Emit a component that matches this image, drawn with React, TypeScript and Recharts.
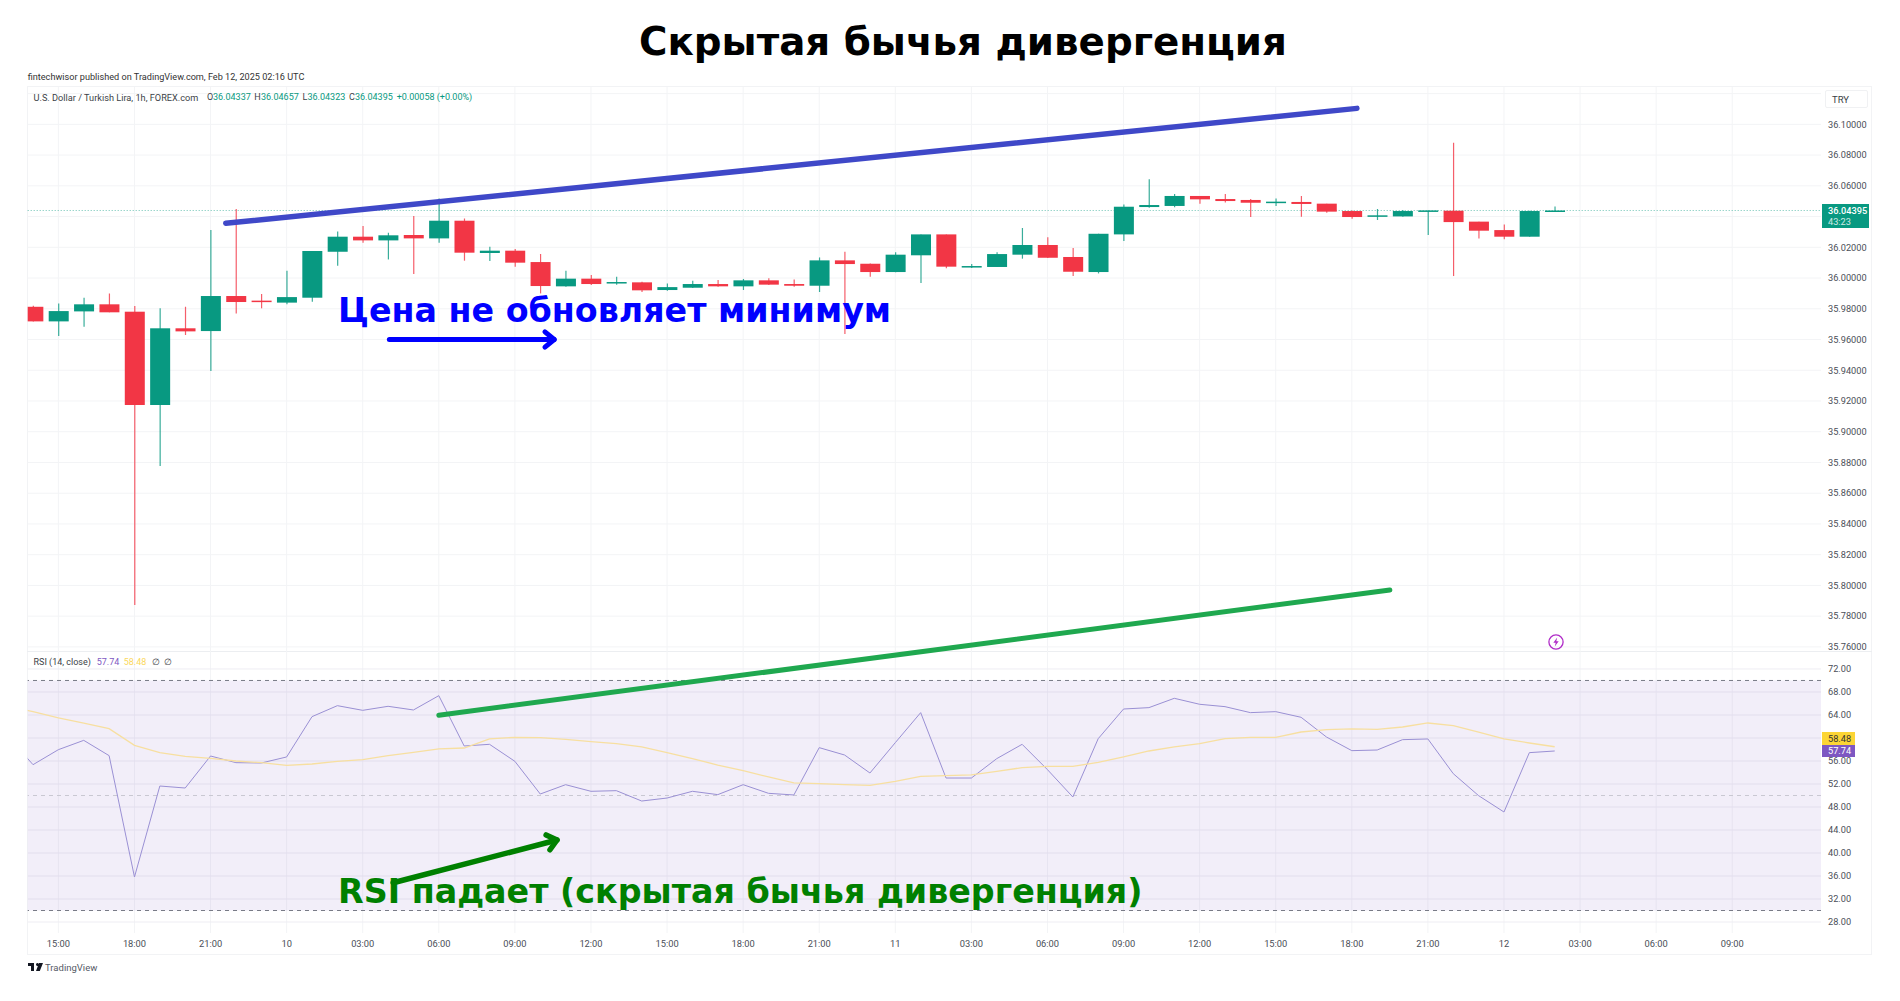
// Hidden bullish divergence: USD/TRY 1h candles with RSI pane (TradingView screenshot).
// One plot area holds both panes: price and RSI have their own Y axes whose
// domains are stretched so each one lands in its part of the height.

import { Bar, CartesianGrid, ComposedChart, Line, ReferenceArea, ReferenceLine, XAxis, YAxis } from "recharts";

// hours counted from Feb 9 00:00, one candle per hour; 13 sits off the left edge and only feeds the RSI lines
const hours = [
  13, 14, 15, 16, 17, 18, 19, 20, 21, 22, 23, 24, 25, 26, 27, 28, 29, 30, 31, 32, 33, 34, 35, 36, 37, 38, 39, 40, 41,
  42, 43, 44, 45, 46, 47, 48, 49, 50, 51, 52, 53, 54, 55, 56, 57, 58, 59, 60, 61, 62, 63, 64, 65, 66, 67, 68, 69, 70,
  71, 72, 73, 74,
];
const opens = [
  null, 35.9813, 35.9718, 35.9783, 35.9829, 35.9781, 35.9174, 35.9673, 35.9655, 35.9883, 35.9853, 35.984, 35.9872,
  36.0171, 36.0269, 36.0245, 36.028, 36.0258, 36.0373, 36.0163, 36.0178, 36.0104, 35.9946, 35.9996, 35.9967, 35.9972,
  35.9922, 35.9937, 35.9961, 35.9946, 35.9985, 35.9961, 35.995, 36.0115, 36.0093, 36.0039, 36.0148, 36.0284, 36.0072,
  36.0072, 36.0152, 36.0215, 36.0137, 36.0039, 36.0284, 36.0462, 36.0469, 36.0534, 36.0514, 36.0508, 36.049, 36.0495,
  36.0484, 36.0436, 36.0401, 36.0401, 36.0434, 36.0438, 36.0367, 36.0312, 36.0269, 36.04337,
];
const highs = [
  null, 35.982, 35.9835, 35.9872, 35.99, 35.9818, 35.9803, 35.9813, 36.0312, 36.0449, 35.9896, 36.0048, 36.0176,
  36.0302, 36.0338, 36.0295, 36.0403, 36.0518, 36.0388, 36.0204, 36.0189, 36.0156, 36.0048, 36.002, 36.0009, 35.9976,
  35.9965, 35.9983, 35.9987, 35.9994, 35.9998, 35.9991, 36.0134, 36.0171, 36.0095, 36.0167, 36.0284, 36.0284, 36.0091,
  36.0167, 36.0325, 36.0265, 36.0195, 36.0288, 36.0479, 36.0642, 36.0547, 36.0534, 36.0547, 36.0514, 36.0518, 36.0534,
  36.0484, 36.044, 36.0449, 36.0443, 36.044, 36.0881, 36.0367, 36.0349, 36.0438, 36.04657,
];
const lows = [
  null, 35.9718, 35.9623, 35.9683, 35.9777, 35.7872, 35.8777, 35.9629, 35.9395, 35.977, 35.9803, 35.9829, 35.9846,
  36.008, 36.023, 36.0121, 36.0026, 36.023, 36.0113, 36.0111, 36.0074, 35.99, 35.9944, 35.9954, 35.9957, 35.9909,
  35.9918, 35.9935, 35.9944, 35.9922, 35.9954, 35.9944, 35.9909, 35.9636, 36.0009, 36.0037, 35.9967, 36.0063, 36.0065,
  36.0072, 36.0126, 36.013, 36.0013, 36.003, 36.0241, 36.0458, 36.046, 36.0484, 36.0492, 36.0397, 36.0469, 36.0399,
  36.0425, 36.0386, 36.0377, 36.0399, 36.028, 36.0013, 36.0258, 36.0252, 36.0269, 36.04323,
];
const closes = [
  null, 35.9718, 35.9785, 35.9829, 35.9777, 35.9174, 35.9673, 35.9653, 35.9883, 35.9844, 35.9846, 35.9876, 36.0176,
  36.0269, 36.0245, 36.0278, 36.0258, 36.0373, 36.0165, 36.0178, 36.01, 35.9948, 35.9996, 35.9961, 35.9974, 35.992,
  35.9941, 35.9961, 35.9946, 35.9985, 35.9957, 35.995, 36.0115, 36.0091, 36.0039, 36.0152, 36.0284, 36.0074, 36.0078,
  36.0156, 36.0215, 36.0132, 36.0041, 36.0288, 36.0464, 36.0475, 36.0534, 36.0512, 36.0501, 36.049, 36.0497, 36.0482,
  36.0432, 36.0397, 36.0408, 36.0436, 36.044, 36.0364, 36.0308, 36.0269, 36.0436, 36.04395,
];
const rsiValues = [
  60.35, 55.36, 57.97, 59.59, 56.93, 35.83, 51.65, 51.3, 56.87, 55.71, 55.65, 56.7, 63.71, 65.62, 64.81, 65.51, 64.87,
  67.36, 58.61, 58.9, 55.94, 50.26, 51.88, 50.73, 50.84, 49.04, 49.56, 50.73, 50.15, 51.88, 50.38, 50.09, 58.32, 57.04,
  53.91, 59.19, 64.41, 53.04, 53.04, 56.41, 58.9, 54.49, 49.74, 59.88, 65.04, 65.28, 66.9, 65.86, 65.45, 64.41, 64.58,
  63.6, 60.17, 57.8, 57.91, 59.71, 59.83, 53.8, 49.97, 47.13, 57.45, 57.74,
];
const rsiMaValues = [
  65.57, 64.58, 63.48, 62.6, 61.62, 58.73, 57.45, 56.81, 56.46, 56.0, 55.71, 55.25, 55.48, 55.94, 56.23, 56.93, 57.51,
  58.09, 58.26, 59.83, 60.12, 60.06, 59.77, 59.36, 59.01, 58.44, 57.45, 56.41, 55.3, 54.32, 53.22, 52.18, 52.06, 51.88,
  51.77, 52.46, 53.33, 53.45, 53.57, 54.2, 54.84, 55.07, 55.07, 55.77, 56.7, 57.74, 58.44, 59.01, 59.88, 60.12, 60.12,
  61.04, 61.45, 61.57, 61.51, 61.91, 62.61, 62.15, 61.04, 59.83, 59.13, 58.48,
];

const timeTicks = [15, 18, 21, 24, 27, 30, 33, 36, 39, 42, 45, 48, 51, 54, 57, 60, 63, 66, 69, 72, 75, 78, 81];
const timeLabels = [
  "15:00", "18:00", "21:00", "10", "03:00", "06:00", "09:00", "12:00", "15:00", "18:00", "21:00", "11", "03:00",
  "06:00", "09:00", "12:00", "15:00", "18:00", "21:00", "12", "03:00", "06:00", "09:00",
];
const priceTicks = [
  36.1, 36.08, 36.06, 36.02, 36.0, 35.98, 35.96, 35.94, 35.92, 35.9, 35.88, 35.86, 35.84, 35.82, 35.8, 35.78, 35.76,
];
const priceGrid = [36.12, 36.04, ...priceTicks];
const rsiTicks = [72, 68, 64, 56, 52, 48, 44, 40, 36, 32, 28];
const rsiGrid = [60, ...rsiTicks];
const lastClose = 36.04395;

const blueTrend = [{ x: 21.6, y: 36.0356 }, { x: 66.2, y: 36.1104 }];
const greenTrend = [{ x: 30, y: 63.97 }, { x: 67.5, y: 85.74 }];
const blueArrow = [{ x: 28.05, y: 35.96 }, { x: 34.55, y: 35.96 }];
const greenArrow = [{ x: 28.2, y: 34.83 }, { x: 34.66, y: 42.26 }];

const UP = "#089981";
const DOWN = "#f23645";
const FONT = "Roboto, sans-serif";

const table = hours.map((h, i) => ({
  h,
  open: opens[i],
  high: highs[i],
  low: lows[i],
  close: closes[i],
  range: lows[i] == null ? null : [lows[i], highs[i]],
  rsi: rsiValues[i],
  ma: rsiMaValues[i],
}));

function Candle(props: any) {
  const { x, y, width, height, payload } = props;
  if (payload == null || payload.range == null) return null;
  const top = Math.min(y, y + height);
  const span = Math.abs(height);
  const k = span / (payload.high - payload.low);
  const color = payload.close >= payload.open ? UP : DOWN;
  const bodyTop = top + (payload.high - Math.max(payload.open, payload.close)) * k;
  const bodyH = Math.max(1.5, Math.abs(payload.open - payload.close) * k);
  const cx = x + width / 2;
  return (
    <g>
      <line x1={cx} x2={cx} y1={top} y2={top + span} stroke={color} strokeWidth={1.2} strokeOpacity={0.8} />
      <rect x={x} y={bodyTop} width={width} height={bodyH} fill={color} />
    </g>
  );
}

// line with an open chevron head
function Arrow(color: string, w: number) {
  return (props: any) => {
    const { x1, y1, x2, y2 } = props;
    const a = Math.atan2(y2 - y1, x2 - x1);
    const size = 12;
    const head = [a + 2.45, a - 2.45].map((d) => [x2 + Math.cos(d) * size, y2 + Math.sin(d) * size]);
    return (
      <g stroke={color} strokeWidth={w} strokeLinecap="round" strokeLinejoin="round" fill="none">
        <line x1={x1} y1={y1} x2={x2} y2={y2} />
        <polyline points={`${head[0][0]},${head[0][1]} ${x2},${y2} ${head[1][0]},${head[1][1]}`} />
      </g>
    );
  };
}

const abs = (left: number, top: number, rest: any = {}): any => ({
  position: "absolute",
  left,
  top,
  whiteSpace: "nowrap",
  lineHeight: 1,
  ...rest,
});

const small = { fontFamily: FONT, fontSize: 9, color: "#3c3f47" };
const upText = { ...small, color: UP };

export default function App() {
  return (
    <div style={{ position: "absolute", left: 0, top: 0, width: 1900, height: 1001, background: "#fff", overflow: "hidden" }}>
      {/* pane frame */}
      <div style={{ position: "absolute", left: 27, top: 86, width: 1845, height: 869, border: "1px solid #f2f3f5", boxSizing: "border-box" }} />
      <div style={{ position: "absolute", left: 27, top: 651, width: 1845, height: 1, background: "#eceef1" }} />

      <ComposedChart
        width={1900}
        height={1001}
        data={table}
        margin={{ top: 87, right: 0, bottom: 38, left: 27.7 }}
        style={{ position: "absolute", left: 0, top: 0 }}
      >
        <CartesianGrid yAxisId="price" horizontalValues={priceGrid} verticalValues={timeTicks} stroke="#f3f4f6" />
        <CartesianGrid yAxisId="rsi" horizontalValues={rsiGrid} vertical={false} stroke="#eeedf3" />
        <CartesianGrid yAxisId="price" horizontalValues={[lastClose]} vertical={false} stroke={UP} strokeOpacity={0.6} strokeDasharray="1 2" />
        <XAxis
          dataKey="h"
          type="number"
          domain={[13.79, 84.5]}
          allowDataOverflow
          ticks={timeTicks}
          interval={0}
          tickFormatter={(v: number) => timeLabels[timeTicks.indexOf(v)]}
          axisLine={false}
          tickLine={false}
          tickSize={0}
          tickMargin={7}
          height={30}
          tick={{ fontSize: 9.3, fill: "#4a4e57", fontFamily: FONT }}
        />
        <YAxis
          yAxisId="price"
          orientation="right"
          type="number"
          domain={[35.57385, 36.1243]}
          allowDataOverflow
          ticks={priceTicks}
          interval={0}
          width={1}
          axisLine={false}
          tickLine={false}
          tickSize={0}
          tickMargin={7}
          tickFormatter={(v: number) => v.toFixed(5)}
          tick={{ fontSize: 9.2, fill: "#4a4e57", fontFamily: FONT }}
        />
        <YAxis
          yAxisId="rsi"
          orientation="right"
          type="number"
          domain={[26.09, 173.2]}
          allowDataOverflow
          ticks={rsiTicks}
          interval={0}
          width={78}
          axisLine={false}
          tickLine={false}
          tickSize={0}
          tickMargin={6}
          tickFormatter={(v: number) => v.toFixed(2)}
          tick={{ fontSize: 9.2, fill: "#4a4e57", fontFamily: FONT }}
        />

        <ReferenceArea yAxisId="rsi" y1={30} y2={70} fill="#7e57c2" fillOpacity={0.1} stroke="none" />
        <ReferenceLine yAxisId="rsi" y={70} stroke="#787b86" strokeDasharray="4 4" />
        <ReferenceLine yAxisId="rsi" y={50} stroke="#c9c8d2" strokeDasharray="4 4" />
        <ReferenceLine yAxisId="rsi" y={30} stroke="#787b86" strokeDasharray="4 4" />

        <Bar yAxisId="price" dataKey="range" barSize={20} shape={Candle} isAnimationActive={false} />
        <Line yAxisId="rsi" dataKey="rsi" stroke="#9a90d4" strokeWidth={1} dot={false} activeDot={false} isAnimationActive={false} />
        <Line yAxisId="rsi" dataKey="ma" stroke="#f7dfa0" strokeWidth={1.3} dot={false} activeDot={false} isAnimationActive={false} />

        <ReferenceLine yAxisId="price" segment={blueTrend} stroke="#3f48c8" strokeWidth={5.5} strokeLinecap="round" ifOverflow="visible" />
        <ReferenceLine yAxisId="rsi" segment={greenTrend} stroke="#1fa84f" strokeWidth={5} strokeLinecap="round" ifOverflow="visible" />
        <ReferenceLine yAxisId="price" segment={blueArrow} shape={Arrow("#0000ff", 5)} ifOverflow="visible" />
        <ReferenceLine yAxisId="rsi" segment={greenArrow} shape={Arrow("#008000", 5.5)} ifOverflow="visible" />
      </ComposedChart>

      <div style={abs(639, 22.5, { fontFamily: "DejaVu Sans", fontWeight: 700, fontSize: 38.8, color: "#000" })}>Скрытая бычья дивергенция</div>
      <div style={abs(338, 294, { fontFamily: "DejaVu Sans", fontWeight: 700, fontSize: 33.3, color: "#0000ff" })}>Цена не обновляет минимум</div>
      <div style={abs(338, 875, { fontFamily: "DejaVu Sans", fontWeight: 700, fontSize: 33.35, color: "#008000" })}>RSI падает (скрытая бычья дивергенция)</div>

      <div style={abs(27.7, 73, { fontFamily: FONT, fontSize: 9.15, color: "#333" })}>fintechwisor published on TradingView.com, Feb 12, 2025 02:16 UTC</div>

      {/* OHLC legend */}
      <div style={abs(33.5, 93, { ...small, fontSize: 9.2 })}>U.S. Dollar / Turkish Lira, 1h, FOREX.com</div>
      <div style={abs(207, 93, small)}>O</div>
      <div style={abs(213, 93, upText)}>36.04337</div>
      <div style={abs(254.3, 93, small)}>H</div>
      <div style={abs(261, 93, upText)}>36.04657</div>
      <div style={abs(302.4, 93, small)}>L</div>
      <div style={abs(307.5, 93, upText)}>36.04323</div>
      <div style={abs(349, 93, small)}>C</div>
      <div style={abs(355, 93, upText)}>36.04395</div>
      <div style={abs(396.7, 93, upText)}>+0.00058 (+0.00%)</div>

      {/* RSI legend */}
      <div style={abs(33.5, 658.3, small)}>RSI (14, close)</div>
      <div style={abs(96.7, 658.3, { ...small, color: "#7e57c2" })}>57.74</div>
      <div style={abs(123.7, 658.3, { ...small, color: "#fbd85d" })}>58.48</div>
      <div style={abs(151.8, 658.3, small)}>∅</div>
      <div style={abs(164, 658.3, small)}>∅</div>

      <div style={abs(1825, 90, { width: 43, height: 18, border: "1px solid #f0f1f3", boxSizing: "border-box", borderRadius: 2, fontFamily: FONT, fontSize: 9.5, color: "#3c3f47", paddingLeft: 6, paddingTop: 4 })}>TRY</div>
      <div style={abs(1822, 204, { width: 47, height: 24, background: UP, color: "#fff", fontFamily: FONT, fontSize: 9.2, fontWeight: 500, paddingLeft: 6, paddingTop: 2, boxSizing: "border-box" })}>
        36.04395
        <div style={{ marginTop: 2, opacity: 0.8, fontWeight: 400 }}>43:23</div>
      </div>
      <div style={abs(1822, 732, { width: 33, height: 12.5, background: "#fcd535", color: "#333", fontFamily: FONT, fontSize: 9.2, paddingLeft: 6, paddingTop: 1.5, boxSizing: "border-box" })}>58.48</div>
      <div style={abs(1822, 744.5, { width: 33, height: 12.5, background: "#7e57c2", color: "#fff", fontFamily: FONT, fontSize: 9.2, paddingLeft: 6, paddingTop: 1.5, boxSizing: "border-box" })}>57.74</div>

      <svg width={16} height={16} viewBox="0 0 16 16" style={abs(1548, 634)}>
        <circle cx={8} cy={8} r={7.1} fill="none" stroke="#b02cc8" strokeWidth={1.3} />
        <path d="M9.2 3.4 5.3 8.8h2.4L6.8 12.6l3.9-5.4H8.3z" fill="#b02cc8" />
      </svg>
      <svg width={15} height={9} viewBox="0 0 15 9" style={abs(27.5, 963)}>
        <path d="M0 0h6v8H3V3H0zM8 1.5a1.4 1.4 0 1 1 0 .01zM11 0h4l-3.2 8H8z" fill="#131722" />
      </svg>
      <div style={abs(45, 963, { fontFamily: FONT, fontSize: 9.5, color: "#555a66" })}>TradingView</div>
    </div>
  );
}
